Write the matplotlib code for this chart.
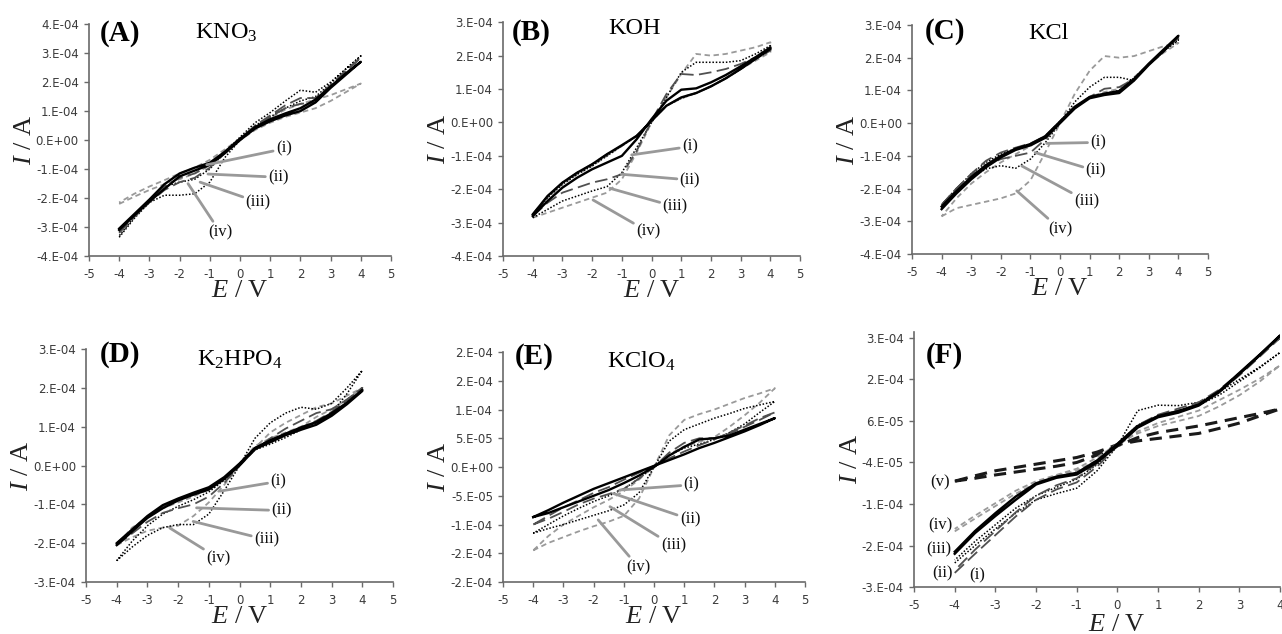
import matplotlib
matplotlib.use("Agg")
import matplotlib.pyplot as plt

plt.rcParams["mathtext.fontset"] = "custom"
plt.rcParams["mathtext.rm"] = "Liberation Serif"
plt.rcParams["mathtext.it"] = "Liberation Serif:italic"
plt.rcParams["mathtext.bf"] = "Liberation Serif:bold"
plt.rcParams["axes.unicode_minus"] = False

# potential grid (V), same for every sweep
E_V = [-4, -3.5, -3, -2.5, -2, -1.5, -1, -0.5, 0, 0.5, 1, 1.5, 2, 2.5, 3, 3.5, 4]

# currents in units of 1e-4 A : forward sweep / reverse sweep (both listed along E_V)
# (A) KNO3
A_i_fwd = [-3.1, -2.6, -2.12, -1.68, -1.25, -1.05, -0.85, -0.45, 0.0, 0.4, 0.65, 0.85, 1.0, 1.3, 1.8, 2.25, 2.7]
A_i_rev = [-3.05, -2.55, -2.05, -1.52, -1.15, -0.95, -0.78, -0.4, 0.05, 0.45, 0.72, 0.92, 1.1, 1.4, 1.85, 2.3, 2.7]
A_ii_fwd = [-3.2, -2.65, -2.15, -1.72, -1.45, -1.3, -0.95, -0.45, 0.0, 0.45, 0.8, 1.1, 1.25, 1.3, 1.85, 2.35, 2.85]
A_ii_rev = [-3.15, -2.6, -2.1, -1.6, -1.3, -1.15, -0.85, -0.4, 0.05, 0.5, 0.85, 1.2, 1.45, 1.45, 1.9, 2.4, 2.85]
A_iii_fwd = [-3.35, -2.7, -2.15, -1.9, -1.9, -1.85, -1.45, -0.6, 0.0, 0.5, 0.8, 1.1, 1.35, 1.5, 1.95, 2.45, 2.9]
A_iii_rev = [-3.3, -2.65, -2.05, -1.6, -1.45, -1.35, -1.0, -0.4, 0.1, 0.6, 0.95, 1.35, 1.72, 1.65, 2.0, 2.45, 2.9]
A_iv_fwd = [-2.2, -1.95, -1.72, -1.52, -1.35, -1.15, -0.88, -0.45, 0.0, 0.35, 0.6, 0.8, 0.95, 1.1, 1.35, 1.65, 1.95]
A_iv_rev = [-2.15, -1.85, -1.6, -1.38, -1.15, -0.95, -0.68, -0.32, 0.05, 0.42, 0.78, 1.05, 1.25, 1.4, 1.55, 1.75, 1.95]

# (B) KOH
B_i_fwd = [-2.8, -2.35, -1.95, -1.65, -1.4, -1.2, -1.0, -0.5, 0.1, 0.65, 0.98, 1.02, 1.2, 1.42, 1.68, 1.95, 2.25]
B_i_rev = [-2.75, -2.2, -1.8, -1.5, -1.25, -0.95, -0.68, -0.4, 0.05, 0.5, 0.75, 0.88, 1.08, 1.32, 1.6, 1.9, 2.2]
B_ii_fwd = [-2.8, -2.4, -2.1, -1.95, -1.8, -1.7, -1.55, -0.85, 0.05, 0.85, 1.45, 1.42, 1.5, 1.6, 1.75, 1.95, 2.2]
B_ii_rev = [-2.75, -2.2, -1.8, -1.5, -1.25, -0.95, -0.7, -0.4, 0.05, 0.5, 0.75, 0.88, 1.08, 1.32, 1.6, 1.9, 2.15]
B_iii_fwd = [-2.85, -2.6, -2.35, -2.2, -2.05, -1.92, -1.5, -0.75, 0.0, 0.75, 1.5, 1.8, 1.8, 1.8, 1.85, 2.05, 2.3]
B_iii_rev = [-2.8, -2.25, -1.85, -1.55, -1.3, -1.0, -0.7, -0.4, 0.05, 0.5, 0.72, 0.88, 1.08, 1.32, 1.6, 1.9, 2.15]
B_iv_fwd = [-2.85, -2.7, -2.55, -2.4, -2.25, -2.1, -1.7, -0.9, 0.0, 0.75, 1.45, 2.05, 2.0, 2.05, 2.15, 2.25, 2.4]
B_iv_rev = [-2.75, -2.25, -1.85, -1.55, -1.3, -1.0, -0.7, -0.4, 0.05, 0.5, 0.72, 0.88, 1.08, 1.32, 1.6, 1.85, 2.1]

# (C) KCl
C_i_fwd = [-2.63, -2.15, -1.72, -1.35, -1.05, -0.82, -0.68, -0.45, 0.0, 0.45, 0.76, 0.86, 0.92, 1.3, 1.78, 2.2, 2.67]
C_i_rev = [-2.55, -2.08, -1.65, -1.28, -1.0, -0.78, -0.64, -0.4, 0.05, 0.5, 0.8, 0.9, 0.98, 1.35, 1.82, 2.25, 2.67]
C_ii_fwd = [-2.5, -2.0, -1.6, -1.3, -1.1, -1.0, -0.9, -0.5, 0.0, 0.45, 0.8, 1.05, 1.1, 1.35, 1.8, 2.2, 2.6]
C_ii_rev = [-2.5, -2.0, -1.55, -1.15, -0.9, -0.75, -0.62, -0.4, 0.05, 0.5, 0.78, 0.9, 0.98, 1.35, 1.8, 2.2, 2.6]
C_iii_fwd = [-2.5, -2.05, -1.65, -1.4, -1.3, -1.38, -1.1, -0.6, 0.0, 0.65, 1.1, 1.4, 1.4, 1.3, 1.8, 2.2, 2.55]
C_iii_rev = [-2.5, -2.0, -1.55, -1.2, -0.95, -0.78, -0.64, -0.4, 0.05, 0.5, 0.78, 0.9, 1.0, 1.38, 1.8, 2.2, 2.55]
C_iv_fwd = [-2.85, -2.6, -2.5, -2.4, -2.3, -2.15, -1.75, -0.9, 0.0, 0.9, 1.6, 2.05, 2.0, 2.05, 2.2, 2.35, 2.45]
C_iv_rev = [-2.85, -2.3, -1.85, -1.5, -1.2, -0.95, -0.7, -0.4, 0.05, 0.5, 0.8, 0.95, 1.05, 1.4, 1.8, 2.15, 2.45]

# (D) K2HPO4
D_i_fwd = [-2.05, -1.7, -1.35, -1.1, -0.9, -0.75, -0.62, -0.35, 0.0, 0.42, 0.6, 0.78, 0.92, 1.05, 1.28, 1.58, 1.92]
D_i_rev = [-2.0, -1.65, -1.3, -1.02, -0.85, -0.7, -0.56, -0.3, 0.05, 0.45, 0.65, 0.82, 0.98, 1.12, 1.35, 1.62, 1.95]
D_ii_fwd = [-2.05, -1.75, -1.45, -1.22, -1.1, -1.0, -0.8, -0.45, 0.0, 0.4, 0.7, 0.95, 1.15, 1.35, 1.45, 1.7, 2.0]
D_ii_rev = [-2.0, -1.65, -1.32, -1.05, -0.88, -0.74, -0.6, -0.32, 0.05, 0.45, 0.65, 0.82, 0.98, 1.15, 1.38, 1.68, 2.0]
D_iii_fwd = [-2.45, -2.1, -1.8, -1.6, -1.52, -1.52, -1.25, -0.65, 0.0, 0.7, 1.1, 1.35, 1.5, 1.45, 1.6, 2.0, 2.45]
D_iii_rev = [-2.45, -1.95, -1.55, -1.25, -1.05, -0.88, -0.68, -0.38, 0.05, 0.4, 0.55, 0.72, 0.92, 1.1, 1.35, 1.85, 2.45]
D_iv_fwd = [-2.05, -1.85, -1.68, -1.6, -1.55, -1.3, -0.95, -0.5, 0.0, 0.45, 0.85, 1.1, 1.3, 1.5, 1.6, 1.8, 2.0]
D_iv_rev = [-2.05, -1.6, -1.35, -1.1, -0.95, -0.8, -0.6, -0.35, 0.05, 0.5, 0.7, 0.85, 1.0, 1.25, 1.45, 1.7, 2.0]

# (E) KClO4
E_i_fwd = [-0.87, -0.8, -0.7, -0.6, -0.5, -0.4, -0.28, -0.15, 0.0, 0.2, 0.35, 0.48, 0.5, 0.55, 0.65, 0.75, 0.85]
E_i_rev = [-0.87, -0.75, -0.62, -0.5, -0.38, -0.28, -0.18, -0.08, 0.02, 0.12, 0.22, 0.33, 0.42, 0.52, 0.62, 0.73, 0.85]
E_ii_fwd = [-1.0, -0.9, -0.78, -0.65, -0.55, -0.47, -0.38, -0.2, 0.0, 0.25, 0.42, 0.5, 0.5, 0.58, 0.7, 0.82, 0.95]
E_ii_rev = [-1.0, -0.85, -0.7, -0.58, -0.45, -0.35, -0.22, -0.1, 0.02, 0.15, 0.27, 0.38, 0.48, 0.6, 0.72, 0.85, 0.95]
E_iii_fwd = [-1.15, -1.07, -1.0, -0.92, -0.84, -0.76, -0.66, -0.45, 0.0, 0.45, 0.65, 0.75, 0.85, 0.93, 1.02, 1.08, 1.14]
E_iii_rev = [-1.15, -1.0, -0.85, -0.72, -0.6, -0.5, -0.38, -0.2, 0.02, 0.2, 0.33, 0.4, 0.48, 0.6, 0.75, 0.95, 1.14]
E_iv_fwd = [-1.45, -1.32, -1.22, -1.12, -1.03, -0.95, -0.85, -0.55, 0.0, 0.55, 0.82, 0.92, 1.0, 1.1, 1.2, 1.28, 1.37]
E_iv_rev = [-1.45, -1.2, -1.0, -0.85, -0.7, -0.57, -0.42, -0.22, 0.02, 0.22, 0.36, 0.44, 0.52, 0.7, 0.9, 1.12, 1.37]

# (F) comparison
F_i_fwd = [-3.06, -2.6, -2.15, -1.7, -1.3, -1.05, -0.88, -0.5, 0.0, 0.45, 0.72, 0.85, 1.0, 1.3, 1.7, 2.15, 2.6]
F_i_rev = [-3.0, -2.5, -2.05, -1.6, -1.2, -0.95, -0.78, -0.42, 0.05, 0.5, 0.75, 0.9, 1.05, 1.35, 1.75, 2.2, 2.6]
F_ii_fwd = [-2.82, -2.4, -2.0, -1.62, -1.3, -1.15, -1.02, -0.6, 0.0, 0.85, 0.98, 0.97, 1.05, 1.3, 1.6, 1.9, 2.25]
F_ii_rev = [-2.75, -2.3, -1.9, -1.5, -1.2, -1.0, -0.8, -0.45, 0.05, 0.5, 0.72, 0.85, 0.98, 1.22, 1.55, 1.88, 2.25]
F_iii_fwd = [-2.6, -2.1, -1.69, -1.3, -0.93, -0.77, -0.69, -0.4, 0.0, 0.44, 0.69, 0.8, 0.97, 1.29, 1.73, 2.18, 2.66]
F_iii_rev = [-2.55, -2.05, -1.62, -1.22, -0.9, -0.74, -0.65, -0.35, 0.05, 0.48, 0.72, 0.84, 1.0, 1.32, 1.76, 2.2, 2.66]
F_iv_fwd = [-2.06, -1.75, -1.45, -1.15, -0.9, -0.72, -0.6, -0.35, 0.0, 0.35, 0.55, 0.7, 0.85, 1.1, 1.35, 1.62, 1.94]
F_iv_rev = [-2.0, -1.68, -1.38, -1.08, -0.85, -0.7, -0.55, -0.28, 0.05, 0.3, 0.48, 0.6, 0.72, 0.95, 1.22, 1.55, 1.94]
F_v_fwd = [-0.85, -0.78, -0.7, -0.63, -0.56, -0.49, -0.4, -0.22, 0.0, 0.2, 0.32, 0.4, 0.48, 0.58, 0.68, 0.78, 0.89]
F_v_rev = [-0.85, -0.72, -0.6, -0.52, -0.44, -0.36, -0.28, -0.15, 0.03, 0.12, 0.18, 0.24, 0.3, 0.42, 0.55, 0.72, 0.89]

# y ticks (1e-4 A) and their Excel-style labels
A_yt = [-4, -3, -2, -1, 0, 1, 2, 3, 4]
A_ytl = ["-4.E-04", "-3.E-04", "-2.E-04", "-1.E-04", "0.E+00", "1.E-04", "2.E-04", "3.E-04", "4.E-04"]
BC_yt = [-4, -3, -2, -1, 0, 1, 2, 3]
BC_ytl = ["-4.E-04", "-3.E-04", "-2.E-04", "-1.E-04", "0.E+00", "1.E-04", "2.E-04", "3.E-04"]
D_yt = [-3, -2, -1, 0, 1, 2, 3]
D_ytl = ["-3.E-04", "-2.E-04", "-1.E-04", "0.E+00", "1.E-04", "2.E-04", "3.E-04"]
E_yt = [-2, -1.5, -1, -0.5, 0, 0.5, 1, 1.5, 2]
E_ytl = ["-2.E-04", "-2.E-04", "-1.E-04", "-5.E-05", "0.E+00", "5.E-05", "1.E-04", "2.E-04", "2.E-04"]
F_yt = [-3.4, -2.4, -1.4, -0.4, 0.6, 1.6, 2.6]
F_ytl = ["-3.E-04", "-2.E-04", "-1.E-04", "-4.E-05", "6.E-05", "2.E-04", "3.E-04"]

LABELS = ["(i)", "(ii)", "(iii)", "(iv)"]
# annotation anchors (point on curve) and text positions, data units
A_pt = [(-1.1, -0.85), (-1.06, -1.17), (-1.32, -1.45), (-1.72, -1.5)]
A_tx = [(1.45, -0.3), (1.27, -1.28), (0.6, -2.14), (-0.66, -3.17)]
B_pt = [(-0.67, -0.97), (-1.01, -1.55), (-1.4, -1.97), (-1.97, -2.32)]
B_tx = [(1.29, -0.72), (1.29, -1.72), (0.79, -2.52), (-0.11, -3.27)]
C_pt = [(-0.45, -0.62), (-0.84, -0.9), (-1.29, -1.31), (-1.46, -2.07)]
C_tx = [(1.29, -0.59), (1.21, -1.46), (0.9, -2.38), (0.0, -3.24)]
D_pt = [(-0.64, -0.66), (-1.4, -1.09), (-1.51, -1.44), (-2.27, -1.61)]
D_tx = [(1.26, -0.41), (1.37, -1.16), (0.88, -1.91), (-0.69, -2.39)]
E_pt = [(-1.13, -0.4), (-1.35, -0.46), (-1.46, -0.69), (-1.85, -0.92)]
E_tx = [(1.24, -0.31), (1.19, -0.91), (0.64, -1.37), (-0.52, -1.74)]
F_lab = ["(v)", "(iv)", "(iii)", "(ii)", "(i)"]
F_tx = [(-4.37, -0.87), (-4.35, -1.92), (-4.38, -2.5), (-4.3, -3.06), (-3.46, -3.12)]

SERIF = "Liberation Serif"
S_I = dict(color="black", lw=1.7, ls="-")
S_II = dict(color="#505050", lw=1.3, ls=(0, (7, 3)))
S_III = dict(color="black", lw=1.1, ls=(0, (1, 1.2)))
S_IV = dict(color="#9a9a9a", lw=1.3, ls=(0, (3, 2)))
S_V = dict(color="#1a1a1a", lw=2.2, ls=(0, (4, 2.5)))


def loop(ax, fwd, rev, sty):
    ax.plot(E_V + E_V[::-1], fwd + rev[::-1], **sty)


def style_axes(ax, xlim, ylim, yt, ytl):
    ax.set_xlim(*xlim)
    ax.set_ylim(*ylim)
    ax.set_xticks(range(int(xlim[0]), int(xlim[1]) + 1))
    ax.set_yticks(yt)
    ax.set_yticklabels(ytl)
    for s in ["top", "right"]:
        ax.spines[s].set_visible(False)
    for s in ["left", "bottom"]:
        ax.spines[s].set_color("#6a6a6a")
        ax.spines[s].set_linewidth(1.2)
    ax.tick_params(direction="out", length=3.8, width=1, color="#6a6a6a",
                   labelsize=8.5, labelcolor="#3a3a3a")
    ax.tick_params(axis="x", pad=5)
    ax.tick_params(axis="y", pad=3.5)
    ax.set_xlabel("$E$ / V", fontsize=19, family=SERIF, color="#222222", labelpad=-1)
    ax.set_ylabel("$I$ / A", fontsize=19, family=SERIF, color="#222222", labelpad=0)


def annotate(ax, pts, txs):
    for lab, p, t in zip(LABELS, pts, txs):
        ax.annotate(lab, xy=p, xytext=t, fontsize=12, family=SERIF,
                    ha="center", va="center", color="#111111",
                    arrowprops=dict(arrowstyle="-", color="#999999", lw=2,
                                    shrinkA=0, shrinkB=0))


fig = plt.figure(figsize=(12.82, 6.34), dpi=100)

panels = [
    ([0.0694, 0.596, 0.2356, 0.366], (-4, 4), A_yt, A_ytl, "(A)", "KNO$_3$",
     [(A_iv_fwd, A_iv_rev), (A_iii_fwd, A_iii_rev), (A_ii_fwd, A_ii_rev), (A_i_fwd, A_i_rev)],
     A_pt, A_tx, (0.036, 0.93), (0.35, 0.935)),
    ([0.3924, 0.596, 0.2317, 0.369], (-4, 3), BC_yt, BC_ytl, "(B)", "KOH",
     [(B_iv_fwd, B_iv_rev), (B_iii_fwd, B_iii_rev), (B_ii_fwd, B_ii_rev), (B_i_fwd, B_i_rev)],
     B_pt, B_tx, (0.03, 0.925), (0.354, 0.95)),
    ([0.7114, 0.5994, 0.2309, 0.3612], (-4, 3), BC_yt, BC_ytl, "(C)", "KCl",
     [(C_iv_fwd, C_iv_rev), (C_iii_fwd, C_iii_rev), (C_ii_fwd, C_ii_rev), (C_i_fwd, C_i_rev)],
     C_pt, C_tx, (0.044, 0.94), (0.392, 0.94)),
    ([0.0671, 0.082, 0.2395, 0.3675], (-3, 3), D_yt, D_ytl, "(D)", "K$_2$HPO$_4$",
     [(D_iv_fwd, D_iv_rev), (D_iii_fwd, D_iii_rev), (D_ii_fwd, D_ii_rev), (D_i_fwd, D_i_rev)],
     D_pt, D_tx, (0.046, 0.944), (0.36, 0.93)),
    ([0.3924, 0.082, 0.2356, 0.3628], (-2, 2), E_yt, E_ytl, "(E)", "KClO$_4$",
     [(E_iv_fwd, E_iv_rev), (E_iii_fwd, E_iii_rev), (E_ii_fwd, E_ii_rev), (E_i_fwd, E_i_rev)],
     E_pt, E_tx, (0.04, 0.948), (0.344, 0.93)),
]
styles = [S_IV, S_III, S_II, S_I]

for rect, ylim, yt, ytl, tag, salt, series, pts, txs, tag_pos, salt_pos in panels:
    ax = fig.add_axes(rect)
    for (fw, rv), sty in zip(series, styles):
        loop(ax, fw, rv, sty)
    style_axes(ax, (-5, 5), ylim, yt, ytl)
    annotate(ax, pts, txs)
    ax.text(*tag_pos, tag, transform=ax.transAxes, fontsize=21, fontweight="bold",
            family=SERIF, ha="left", va="baseline")
    ax.text(*salt_pos, salt, transform=ax.transAxes, fontsize=17.5,
            family=SERIF, ha="left", va="baseline")

# (F)
axf = fig.add_axes([0.713, 0.0741, 0.2855, 0.4027])
for (fw, rv), sty in zip([(F_v_fwd, F_v_rev), (F_iv_fwd, F_iv_rev), (F_ii_fwd, F_ii_rev),
                          (F_i_fwd, F_i_rev), (F_iii_fwd, F_iii_rev)],
                         [S_V, S_IV, S_III, S_II, S_I]):
    loop(axf, fw, rv, sty)
style_axes(axf, (-5, 4), (-3.4, 2.75), F_yt, F_ytl)
axf.xaxis.set_label_coords(0.555, -0.105)
for lab, t in zip(F_lab, F_tx):
    axf.text(*t, lab, fontsize=12, family=SERIF, ha="center", va="center", color="#111111")
axf.text(0.033, 0.877, "(F)", transform=axf.transAxes, fontsize=21, fontweight="bold",
         family=SERIF, ha="left", va="baseline")

fig.savefig("out.png", dpi=100)
